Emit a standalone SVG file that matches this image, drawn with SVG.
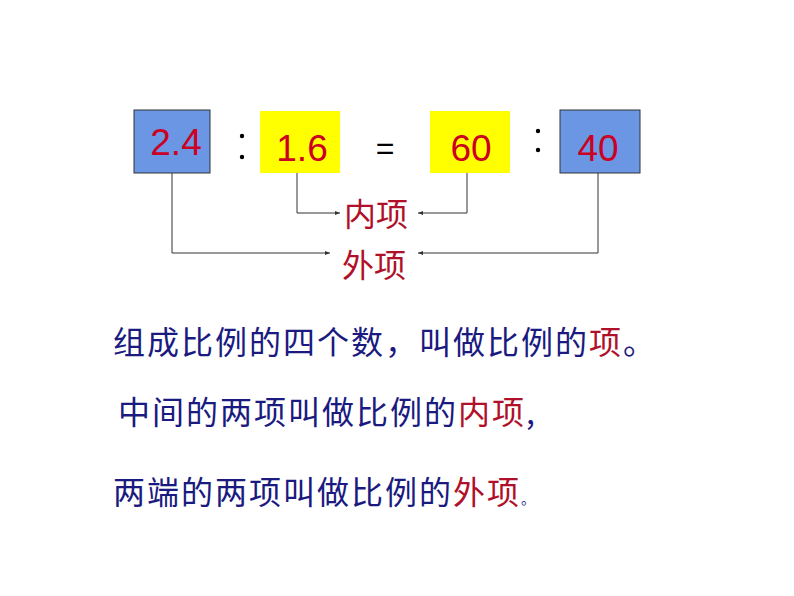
<svg xmlns="http://www.w3.org/2000/svg" width="794" height="596" viewBox="0 0 794 596">
<style>
.num{font-family:"Liberation Sans",Arial,sans-serif;font-size:37px;fill:#cc0022;text-anchor:middle}
.op{font-family:"Liberation Sans",Arial,sans-serif;font-size:32px;fill:#000;text-anchor:middle}
.lab{font-family:"Noto Sans CJK SC",sans-serif;font-size:32px;fill:#b0102a}
.txt{font-family:"Noto Sans CJK SC",sans-serif;font-size:32px;fill:#1a1a80;letter-spacing:2px}
.red{fill:#b0102a}
.ln{fill:none;stroke:#333;stroke-width:1}
</style>
<defs><marker id="a" markerWidth="6" markerHeight="6" refX="5" refY="3" orient="auto"><path d="M0,1 L5,3 L0,5z" fill="#333"/></marker></defs>
<rect width="794" height="596" fill="#fff"/>
<g id="n1"><rect x="134" y="110" width="76" height="63" fill="#6a96e4" stroke="#333"/><text class="num" x="176" y="155">2.4</text></g>
<g id="n2"><rect x="260" y="111" width="80" height="62" fill="#ffff00"/><text class="num" x="302" y="161">1.6</text></g>
<g id="n3"><rect x="430" y="111" width="80" height="62" fill="#ffff00"/><text class="num" x="471" y="161">60</text></g>
<g id="n4"><rect x="560" y="110" width="80" height="63" fill="#6a96e4" stroke="#333"/><text class="num" x="598" y="161">40</text></g>
<g id="ops">
<circle cx="242" cy="136" r="2.2"/><circle cx="242" cy="157" r="2.2"/>
<circle cx="538" cy="131" r="2.2"/><circle cx="538" cy="150" r="2.2"/>
<text class="op" x="385" y="159">=</text>
</g>
<g id="connectors">
<path class="ln" d="M297,173 V213 H340" marker-end="url(#a)"/>
<path class="ln" d="M467,173 V213 H418" marker-end="url(#a)"/>
<path class="ln" d="M172,173 V253 H330" marker-end="url(#a)"/>
<path class="ln" d="M598,173 V253 H418" marker-end="url(#a)"/>
</g>
<g id="inner"><text class="lab" x="344" y="226">内项</text></g>
<g id="outer"><text class="lab" x="342" y="277">外项</text></g>
<g id="text">
<text class="txt" x="113" y="354">组成比例的四个数，叫做比例的<tspan class="red">项</tspan>。</text>
<text class="txt" x="118" y="424">中间的两项叫做比例的<tspan class="red">内项</tspan>,</text>
<text class="txt" x="113" y="504">两端的两项叫做比例的<tspan class="red">外项</tspan><tspan font-size="14">。</tspan></text>
</g>
</svg>
